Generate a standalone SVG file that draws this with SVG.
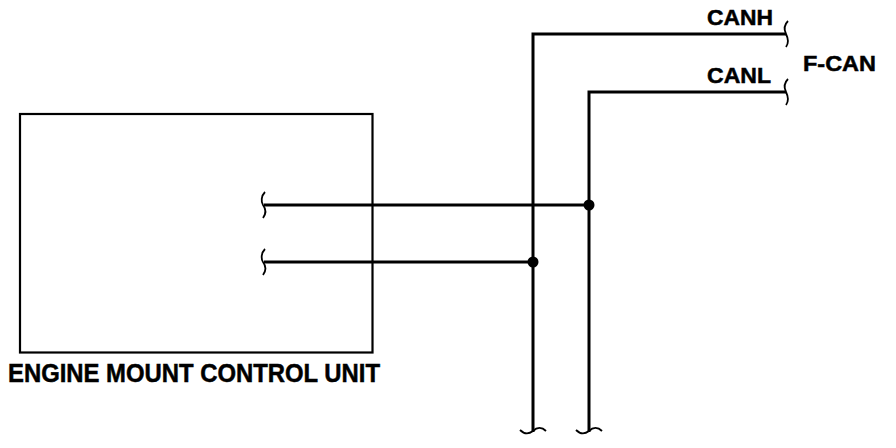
<svg xmlns="http://www.w3.org/2000/svg" width="896" height="448" viewBox="0 0 896 448">
<style>
.w{fill:none;stroke:#000;stroke-width:3;stroke-linejoin:miter}
.b{fill:none;stroke:#000;stroke-width:1.8}
.box{fill:none;stroke:#000;stroke-width:2.2}
.t{font-family:"Liberation Sans",Arial,sans-serif;font-weight:bold;fill:#000;stroke:#000;stroke-width:0.5}
</style>
<rect width="896" height="448" fill="#fff"/>
<g id="ecu">
<rect class="box" x="20" y="114" width="352.5" height="238.5"/>
<text class="t" x="8" y="382" font-size="26" textLength="372" lengthAdjust="spacingAndGlyphs">ENGINE MOUNT CONTROL UNIT</text>
</g>
<g id="fcan">
<text class="t" x="707" y="25" font-size="22" textLength="66" lengthAdjust="spacingAndGlyphs">CANH</text>
<text class="t" x="707" y="83" font-size="22" textLength="64" lengthAdjust="spacingAndGlyphs">CANL</text>
<text class="t" x="803" y="71" font-size="22" textLength="73" lengthAdjust="spacingAndGlyphs">F-CAN</text>
</g>
<g id="connectors">
<polyline class="w" points="786,34 533,34 533,432"/>
<polyline class="w" points="786,92 589,92 589,432"/>
<line class="w" x1="264" y1="205" x2="589" y2="205"/>
<line class="w" x1="264" y1="262" x2="533" y2="262"/>
<circle cx="589" cy="205" r="5.5" fill="#000"/>
<circle cx="533" cy="262" r="5.5" fill="#000"/>
<path class="b" d="M788,21 C784,25 784,30 786,34 C788,38 789,43 786,47"/>
<path class="b" d="M788,79 C784,83 784,88 786,92 C788,96 789,101 786,105"/>
<path class="b" d="M265,192 C261,196 261,202 263,205 C266,209 266,214 263,218"/>
<path class="b" d="M265,249 C261,253 261,259 263,262 C266,266 266,271 263,275"/>
<path class="b" d="M520,430 C524,434 529,434 533,431 C537,427 542,427 546,431"/>
<path class="b" d="M576,430 C580,434 585,434 589,431 C593,427 598,427 602,431"/>
</g>
</svg>
